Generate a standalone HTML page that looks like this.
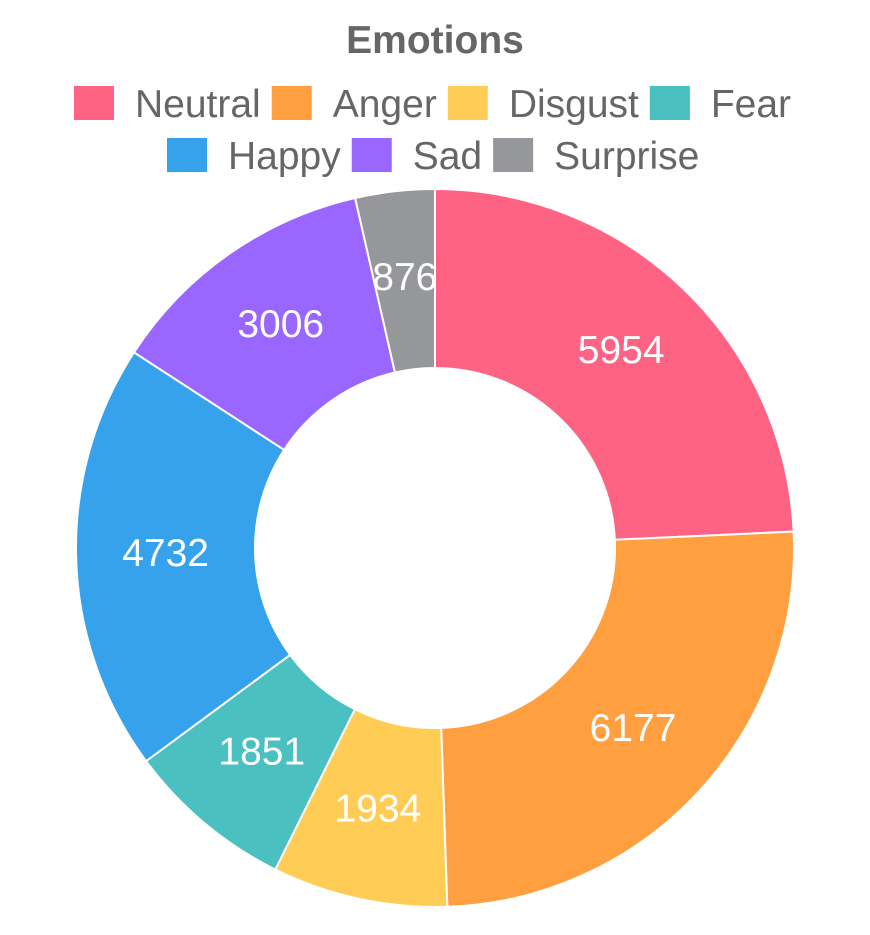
<!DOCTYPE html>
<html><head><meta charset="utf-8"><style>
body{margin:0;background:#fff;}
svg{display:block;font-family:"Liberation Sans",Arial,sans-serif;}
</style></head><body>
<svg id="chart" width="870" height="935">
<text x="435" y="53" text-anchor="middle" font-size="39" font-weight="bold" fill="#666">Emotions</text>
<g id="legend"></g>
<g id="slices"></g>
<g id="labels"></g>
</svg>
<script>
const categories = ["Neutral","Anger","Disgust","Fear","Happy","Sad","Surprise"];
const values = [5954,6177,1934,1851,4732,3006,876];
const colors = ["rgb(255,99,132)","rgb(255,159,64)","rgb(255,205,86)","rgb(75,192,192)","rgb(54,162,235)","rgb(153,102,255)","rgb(150,151,155)"];
const NS="http://www.w3.org/2000/svg";
const cx=435, cy=548, R=359, r=180;
const total=values.reduce((a,b)=>a+b,0);
const slices=document.getElementById('slices'), labels=document.getElementById('labels'), legend=document.getElementById('legend');
function pt(rad,a){return [cx+rad*Math.sin(a), cy-rad*Math.cos(a)];}
let a0=0;
values.forEach((v,i)=>{
  const a1=a0+v/total*2*Math.PI;
  const large=(a1-a0)>Math.PI?1:0;
  const [x1,y1]=pt(R,a0),[x2,y2]=pt(R,a1),[x3,y3]=pt(r,a1),[x4,y4]=pt(r,a0);
  const p=document.createElementNS(NS,'path');
  p.setAttribute('d',`M${x1},${y1}A${R},${R} 0 ${large} 1 ${x2},${y2}L${x3},${y3}A${r},${r} 0 ${large} 0 ${x4},${y4}Z`);
  p.setAttribute('fill',colors[i]);p.setAttribute('stroke','#fff');p.setAttribute('stroke-width','2');
  
  
  slices.appendChild(p);
  const [lx,ly]=pt((R+r)/2,(a0+a1)/2);
  const t=document.createElementNS(NS,'text');
  t.setAttribute('x',lx);t.setAttribute('y',ly+10);t.setAttribute('text-anchor','middle');
  t.setAttribute('font-size','39');t.setAttribute('fill','#fff');t.textContent=v;
  
  
  labels.appendChild(t);
  a0=a1;
});
const legendRows=[[0,1,2,3],[4,5,6]];
const rowStartX=[74,167], rowY=[103,155];
legendRows.forEach((row,ri)=>{
  let x=rowStartX[ri];
  row.forEach(i=>{
    const g=document.createElementNS(NS,'g');
    
    
    const b=document.createElementNS(NS,'rect');
    b.setAttribute('x',x);b.setAttribute('y',rowY[ri]-17);b.setAttribute('width',40);b.setAttribute('height',34);
    b.setAttribute('fill',colors[i]);
    g.appendChild(b);
    const t=document.createElementNS(NS,'text');
    t.setAttribute('x',x+61);t.setAttribute('y',rowY[ri]+14);t.setAttribute('font-size','39');t.setAttribute('fill','#666');
    t.textContent=categories[i];
    g.appendChild(t);
    legend.appendChild(g);
    x+=61+t.getComputedTextLength()+11;
  });
});
</script>
</body></html>
